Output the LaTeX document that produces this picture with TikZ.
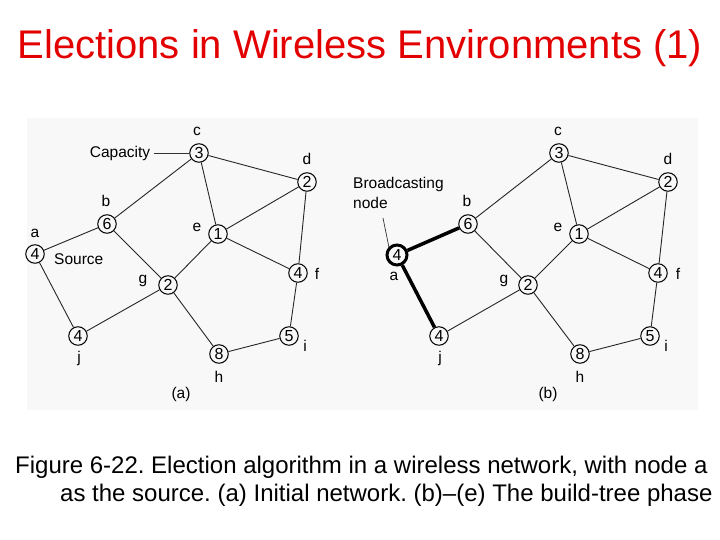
\documentclass[tikz,border=0pt]{standalone}
\usepackage{fontspec}
\setmainfont{Liberation Sans}
\frenchspacing
\definecolor{titlered}{RGB}{226,0,0}
\definecolor{panelbg}{RGB}{248,248,248}
\begin{document}
\begin{tikzpicture}[x=1pt,y=-1pt,
  vtx/.style={circle,draw,line width=1pt,inner sep=0pt,minimum size=18.5pt,font=\fontsize{16}{16}\selectfont},
  bvtx/.style={vtx,line width=3pt,minimum size=20pt},
  lbl/.style={inner sep=0pt,font=\fontsize{15.5}{17}\selectfont},
  edge/.style={line width=0.9pt,draw=black!85},
  tedge/.style={line width=3.5pt,draw=black},
  lead/.style={line width=0.7pt,draw=black!80}]
\useasboundingbox (0,0) rectangle (720,540);
\fill[white] (0,0) rectangle (720,540);
\fill[panelbg] (27,118) rectangle (698,410);
\node[text=titlered,font=\fontsize{40}{44}\selectfont,anchor=base] (title) at (360,59) {Elections in Wireless Environments (1)};
% panel (a)
\node[vtx] (a) at (35,254) {4};
\node[vtx] (b) at (107,224) {6};
\node[vtx] (c) at (199,153) {3};
\node[vtx] (d) at (307,182) {2};
\node[vtx] (e) at (218,234) {1};
\node[vtx] (f) at (298,273) {4};
\node[vtx] (g) at (168,285) {2};
\node[vtx] (j) at (78,336) {4};
\node[vtx] (h) at (219,354) {8};
\node[vtx] (i) at (289,336) {5};
\foreach \u/\v in {a/b,a/j,b/c,b/g,c/d,c/e,d/e,d/f,e/f,e/g,g/j,g/h,h/i,i/f}
  \draw[edge] (\u) -- (\v);
\node[lbl] (lc) at (197,131) {c};
\node[lbl] (ld) at (307,159) {d};
\node[lbl] (lb) at (106,201) {b};
\node[lbl] (la) at (35,233) {a};
\node[lbl,anchor=west] (src) at (54,259) {Source};
\node[lbl] (le) at (197,227) {e};
\node[lbl] (lg) at (143,281) {g};
\node[lbl] (lf) at (317,274) {f};
\node[lbl] (lj) at (79,358) {j};
\node[lbl] (lh) at (219,377) {h};
\node[lbl] (li) at (305,346) {i};
\node[lbl] (cap) at (120,153) {Capacity};
\draw[lead] (cap.east) ++(4,0) coordinate (capend) -- (c.west);
\node[lbl] (pa) at (181,394) {(a)};
% panel (b)
\begin{scope}[shift={(361,0)},name prefix=B]
\node[bvtx] (a) at (36,255) {4};
\node[vtx] (b) at (107,224) {6};
\node[vtx] (c) at (198,153) {3};
\node[vtx] (d) at (307,182) {2};
\node[vtx] (e) at (218,234) {1};
\node[vtx] (f) at (297,273) {4};
\node[vtx] (g) at (167,285) {2};
\node[vtx] (j) at (78,336) {4};
\node[vtx] (h) at (219,354) {8};
\node[vtx] (i) at (289,336) {5};
\end{scope}
\foreach \u/\v in {Bb/Bc,Bb/Bg,Bc/Bd,Bc/Be,Bd/Be,Bd/Bf,Be/Bf,Be/Bg,Bg/Bj,Bg/Bh,Bh/Bi,Bi/Bf}
  \draw[edge] (\u) -- (\v);
\draw[tedge] (Ba) -- (Bb);
\draw[tedge] (Ba) -- (Bj);
\begin{scope}[shift={(361,0)},name prefix=B]
\node[lbl] (lc) at (197,131) {c};
\node[lbl] (ld) at (307,159) {d};
\node[lbl] (lb) at (106,201) {b};
\node[lbl] (la) at (33,276) {a};
\node[lbl] (le) at (197,227) {e};
\node[lbl] (lg) at (143,281) {g};
\node[lbl] (lf) at (317,274) {f};
\node[lbl] (lj) at (79,358) {j};
\node[lbl] (lh) at (219,377) {h};
\node[lbl] (li) at (305,346) {i};
\node[lbl] (pb) at (187,394) {(b)};
\node[lbl,anchor=base west] (bc1) at (-8,189) {Broadcasting};
\node[lbl,anchor=base west] (bc2) at (-8,208) {node};
\coordinate (leadtop) at (22,218);
\end{scope}
\draw[lead] (Bleadtop) -- (Ba.north west);
% caption
\node[font=\fontsize{24}{28}\selectfont,anchor=base west,inner sep=0pt] (cap1) at (15,473) {Figure 6-22. Election algorithm in a wireless network, with node a};
\node[font=\fontsize{24}{28}\selectfont,anchor=base west,inner sep=0pt] (cap2) at (60,501) {as the source. (a) Initial network. (b)--(e) The build-tree phase};
\end{tikzpicture}
\end{document}
